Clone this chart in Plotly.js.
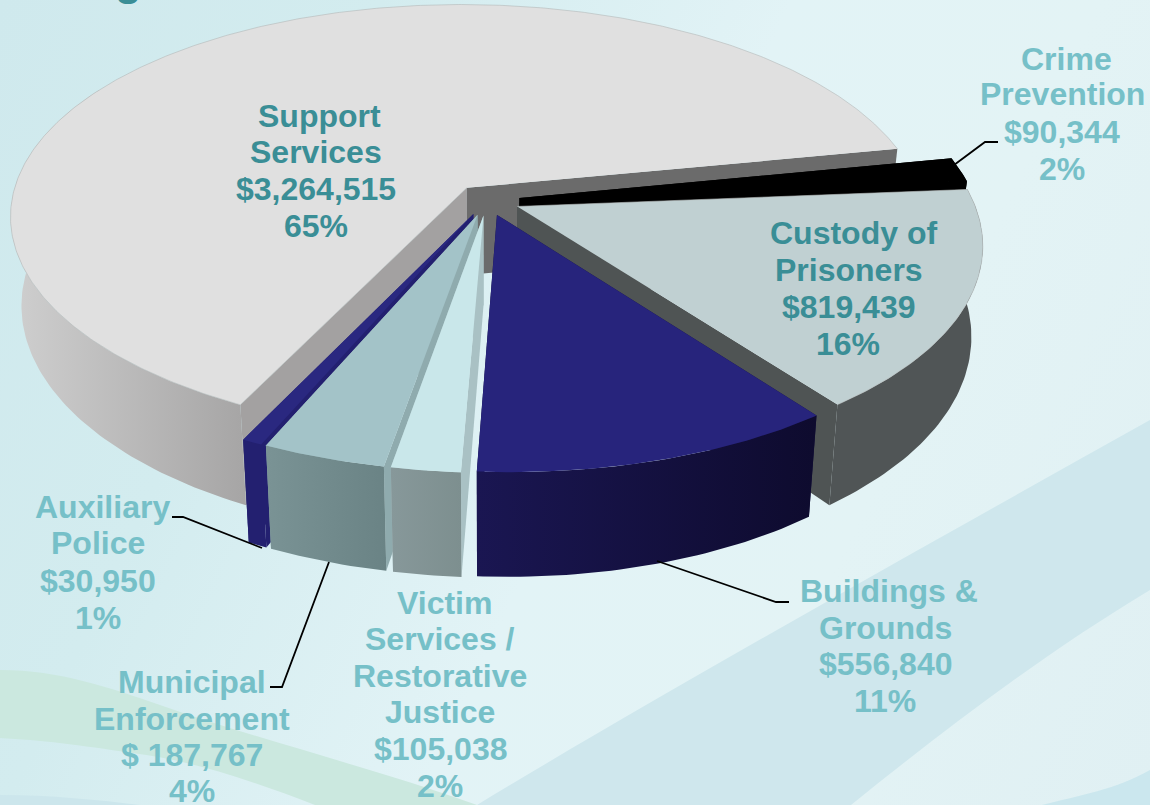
<!DOCTYPE html>
<html><head><meta charset="utf-8">
<script src="https://cdn.plot.ly/plotly-3.0.1.min.js"></script>
<style>
html,body{margin:0;padding:0;width:1150px;height:805px;overflow:hidden;
background:linear-gradient(115deg,#cfe9ed 0%,#d3ecef 25%,#e2f3f6 52%,#e3f3f5 72%,#e0f0f3 100%);}
#chart{width:1150px;height:805px;}
</style></head><body><div id="chart"></div>
<script>
// ---- data ----
const categories = ["Crime Prevention","Custody of Prisoners","Buildings & Grounds","Victim Services / Restorative Justice","Municipal Enforcement","Auxiliary Police","Support Services"];
const values = [90344,819439,556840,105038,187767,30950,3264515];
const moneyLabels = ["$90,344","$819,439","$556,840","$105,038","$ 187,767","$30,950","$3,264,515"];
const labelLines = [["Crime","Prevention"],["Custody of","Prisoners"],["Buildings &","Grounds"],["Victim","Services /","Restorative","Justice"],["Municipal","Enforcement"],["Auxiliary","Police"],["Support","Services"]];

// ---- styles, per slice ----
const topColors   = ["#000000","#c0d0d2","#27247c","#c9e7ea","#a3c3c8","#2a2880","#e0e0e0"];
const outerColors = [["#000000","#000000"],["#505556","#505556"],["#1a1652","#0e0b2e"],["#87989a","#7d8f8f"],["#7a9395","#6a8385"],["#232070","#232070"],["#cfcfcf","#a6a5a5"]];
const wallStart   = ["#000000","#4f5454","#14103f","#a9c1c4","#8fabae","#232070","#a3a1a1"];
const wallEnd     = ["#000000","#4f5454","#14103f","#a9c1c4","#8fabae","#232070","#6b6b6b"];
const drawOrder   = [6,0,1,5,4,3,2];
const textDark = "#3a8e96", textLight = "#76c0c8";
const labelStyle = [textLight,textDark,textLight,textLight,textLight,textLight,textDark];
const labelX = [[1066,1062,1062,1062],[853,849,848,848],[889,885,885,885],[444,440,440,440,440,440],[192,192,192,192],[102,98,98,98],[319,316,316,316]];
const labelY = [[59,94,132,169],[233,270,307,344],[591,628,664,701],[603,639,676,712,749,786],[682,719,755,791],[507,543,581,618],[116,152,189,226]];
const leaders = [
  {x:[950,985,998],y:[168,142,142]},
  {x:[172,183,262],y:[517,517,548]},
  {x:[329,282,270],y:[562,687,687]},
  {x:[657,776,789],y:[561,602,602]}
];

// ---- view of the exploded pie ----
const CX=487, CY=200, R=456, T=214, P=0.149, H=88, SHEAR=9, SHRINK=0.977, EXPLODE=0.072, START=-11;
const total = values.reduce((a,b)=>a+b,0);
const rad = d=>d*Math.PI/180;
function project(X,Z,low){
  const s=1/(1-P*Z);
  let x=CX+(R*X+SHEAR*Z)*s, y=CY+T*Z*s;
  if(low){x=CX+(x-CX)*SHRINK; y+=H*s;}
  return [x,y];
}
const traces=[];
function poly(points,opt){
  const t={x:points.map(p=>p[0]),y:points.map(p=>p[1]),mode:"lines",fill:"toself",hoverinfo:"skip",showlegend:false,
    line:{width:opt.lw||0,color:opt.lc||opt.color||"#000"},type:"scatter"};
  if(opt.grad) t.fillgradient={type:"horizontal",colorscale:[[0,opt.grad[0]],[1,opt.grad[1]]]};
  else t.fillcolor=opt.color;
  traces.push(t);
}
let acc=START; const slices=values.map(v=>{const a=acc; acc+=v/total*360; return {a,b:acc};});
drawOrder.forEach(i=>{
  const {a,b}=slices[i], mid=rad((a+b)/2);
  const ox=EXPLODE*Math.cos(mid), oz=EXPLODE*Math.sin(mid);
  const pt=(d,low)=>project(ox+Math.cos(rad(d)),oz+Math.sin(rad(d)),low);
  const apex=low=>project(ox,oz,low);
  // radial walls
  poly([apex(false),pt(a,false),pt(a,true),apex(true)],{color:wallStart[i]});
  poly([apex(false),pt(b,false),pt(b,true),apex(true)],{color:wallEnd[i]});
  // outer wall, front part only
  const w0=Math.max(a,-30), w1=Math.min(b,210);
  if(w1>w0){
    const up=[],dn=[];
    for(let d=w0;d<w1;d+=1){up.push(pt(d,false));dn.push(pt(d,true));}
    up.push(pt(w1,false));dn.push(pt(w1,true));
    poly(up.concat(dn.reverse()),{grad:outerColors[i],color:outerColors[i][0]});
  }
  // top face
  const face=[apex(false)];
  for(let d=a;d<b;d+=0.5) face.push(pt(d,false));
  face.push(pt(b,false));
  poly(face,{color:topColors[i],lw:i===6||i===1?0.6:0,lc:i===6||i===1?"#b4b8b8":undefined});
});
leaders.forEach(l=>traces.push({x:l.x,y:l.y,mode:"lines",type:"scatter",hoverinfo:"skip",showlegend:false,line:{color:"#000",width:1.8}}));

// ---- labels ----
const annotations=[];
categories.forEach((c,i)=>{
  const pct=Math.round(values[i]/total*100)+"%";
  const lines=labelLines[i].concat([moneyLabels[i],pct]);
  lines.forEach((txt,j)=>annotations.push({x:labelX[i][j],y:labelY[i][j],xref:"x",yref:"y",text:txt,showarrow:false,
    xanchor:"center",yanchor:"middle",font:{family:"Liberation Sans, Arial, sans-serif",size:32,color:labelStyle[i],weight:700}}));
});
annotations.push({x:128,y:1.026,xref:"x",yref:"paper",text:"g",showarrow:false,xanchor:"center",yanchor:"middle",
  font:{family:"Liberation Sans, Arial, sans-serif",size:44,color:textDark,weight:700}});

// ---- background waves ----
const shapes=[
 {path:"M477,805 C650,700 900,560 1150,420 L1150,590 C1050,650 950,725 851,805 Z",fillcolor:"#cfe7ed"},
 {path:"M1042,805 C1080,795 1115,790 1150,770 L1150,805 Z",fillcolor:"#cbe7ee"},
 {path:"M0,670 C60,670 110,688 160,705 C260,740 380,770 477,805 L315,805 C250,780 190,760 132,753 C80,745 40,740 0,738 Z",fillcolor:"#cbe8df"},
 {path:"M0,795 C50,795 100,800 140,805 L0,805 Z",fillcolor:"#cce6ec"}
].map(s=>Object.assign(s,{type:"path",xref:"x",yref:"y",layer:"below",line:{width:0}}));

Plotly.newPlot("chart",traces,{
  width:1150,height:805,margin:{l:0,r:0,t:0,b:0},
  paper_bgcolor:"rgba(0,0,0,0)",plot_bgcolor:"rgba(0,0,0,0)",showlegend:false,
  xaxis:{range:[0,1150],visible:false,fixedrange:true},
  yaxis:{range:[805,0],visible:false,fixedrange:true},
  annotations,shapes
},{displayModeBar:false,staticPlot:true});
</script></body></html>
